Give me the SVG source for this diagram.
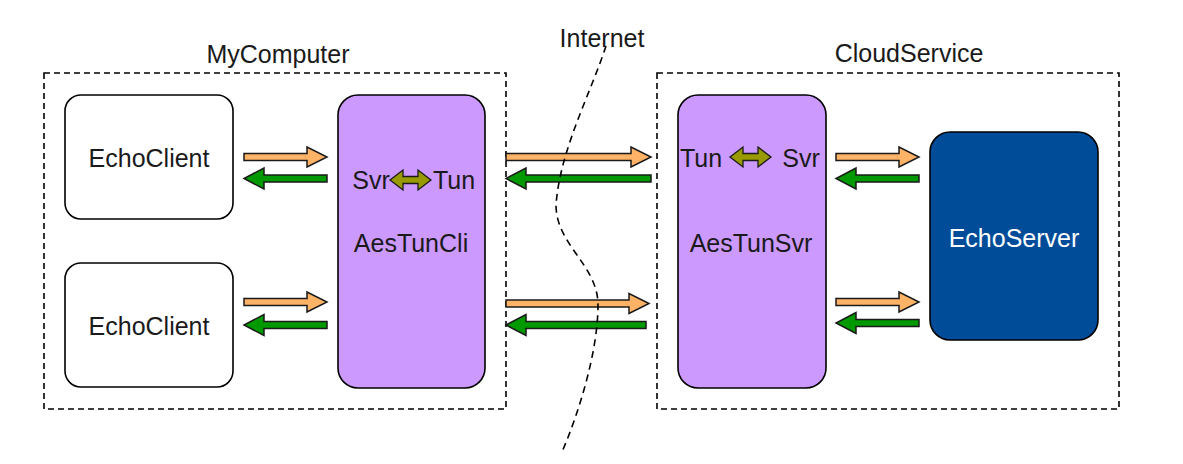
<svg xmlns="http://www.w3.org/2000/svg" width="1183" height="464" viewBox="0 0 1183 464">
<style>
text{font-family:"Liberation Sans",Arial,sans-serif;font-size:25px;fill:#1a1a1a;text-anchor:middle}
.grp{fill:none;stroke:#000;stroke-width:1.6;stroke-dasharray:6,4}
.box{fill:#fff;stroke:#000;stroke-width:1.6}
.tun{fill:#cc99ff;stroke:#000;stroke-width:1.6}
.srv{fill:#004c99;stroke:#000;stroke-width:1.6}
.req{fill:#ffb366;stroke:#1a1a1a;stroke-width:1.5;stroke-linejoin:miter}
.rsp{fill:#009900;stroke:#1a1a1a;stroke-width:1.5}
.dbl{fill:#999900;stroke:#1a1a1a;stroke-width:1.3}
.net{fill:none;stroke:#000;stroke-width:1.6;stroke-dasharray:7,5}
</style>
<g id="MyComputer">
<rect class="grp" x="44" y="73" width="462" height="336"/>
<text x="278" y="63">MyComputer</text>
</g>
<g id="CloudService">
<rect class="grp" x="657" y="73" width="462" height="336"/>
<text x="909" y="62">CloudService</text>
</g>
<g id="EchoClient1">
<rect class="box" x="65" y="95" width="168" height="124" rx="16"/>
<text x="149" y="167">EchoClient</text>
</g>
<g id="EchoClient2">
<rect class="box" x="65" y="263" width="168" height="124" rx="16"/>
<text x="149" y="335">EchoClient</text>
</g>
<g id="AesTunCli">
<rect class="tun" x="338" y="95" width="147" height="293" rx="20"/>
<text x="371" y="189">Svr</text>
<text x="454" y="189">Tun</text>
<path class="dbl" d="M390,180 L403,170 L403,176.5 L418,176.5 L418,170 L431,180 L418,190 L418,183.5 L403,183.5 L403,190 Z"/>
<text x="411" y="252">AesTunCli</text>
</g>
<g id="AesTunSvr">
<rect class="tun" x="678" y="95" width="148" height="293" rx="20"/>
<text x="701" y="167">Tun</text>
<text x="801" y="167">Svr</text>
<path class="dbl" d="M730,157 L743,147 L743,153.5 L758,153.5 L758,147 L771,157 L758,167 L758,160.5 L743,160.5 L743,167 Z"/>
<text x="751" y="252">AesTunSvr</text>
</g>
<g id="EchoServer">
<rect class="srv" x="930" y="132" width="168" height="208" rx="20"/>
<text x="1014" y="247" style="fill:#fff">EchoServer</text>
</g>
<g id="connectors">
<path class="req" d="M244,153.5 L307,153.5 L307,147 L327,157 L307,167 L307,160.5 L244,160.5 Z"/>
<path class="rsp" d="M327,175 L264,175 L264,168 L244,178.5 L264,189 L264,182 L327,182 Z"/>
<path class="req" d="M244,298.5 L307,298.5 L307,292 L327,302 L307,312 L307,305.5 L244,305.5 Z"/>
<path class="rsp" d="M327,321.5 L264,321.5 L264,314.5 L244,325 L264,335.5 L264,328.5 L327,328.5 Z"/>
<path class="req" d="M506,153.5 L631,153.5 L631,147 L651,157 L631,167 L631,160.5 L506,160.5 Z"/>
<path class="rsp" d="M651,175 L526,175 L526,168 L506,178.5 L526,189 L526,182 L651,182 Z"/>
<path class="req" d="M506,300 L629,300 L629,293.5 L649,303.5 L629,313.5 L629,307 L506,307 Z"/>
<path class="rsp" d="M646,321.5 L526,321.5 L526,314.5 L506,325 L526,335.5 L526,328.5 L646,328.5 Z"/>
<path class="req" d="M836,153.5 L899,153.5 L899,147 L919,157 L899,167 L899,160.5 L836,160.5 Z"/>
<path class="rsp" d="M919,175 L856,175 L856,168 L836,178.5 L856,189 L856,182 L919,182 Z"/>
<path class="req" d="M836,298.5 L899,298.5 L899,292 L919,302 L899,312 L899,305.5 L836,305.5 Z"/>
<path class="rsp" d="M919,319.5 L856,319.5 L856,312.5 L836,323 L856,333.5 L856,326.5 L919,326.5 Z"/>
</g>
<g id="Internet">
<path class="net" d="M606,46 C590,95 560,150 556,205 C556,245 598,265 598,305 C598,350 580,410 562,452"/>
<text x="602" y="47">Internet</text>
</g>
</svg>
